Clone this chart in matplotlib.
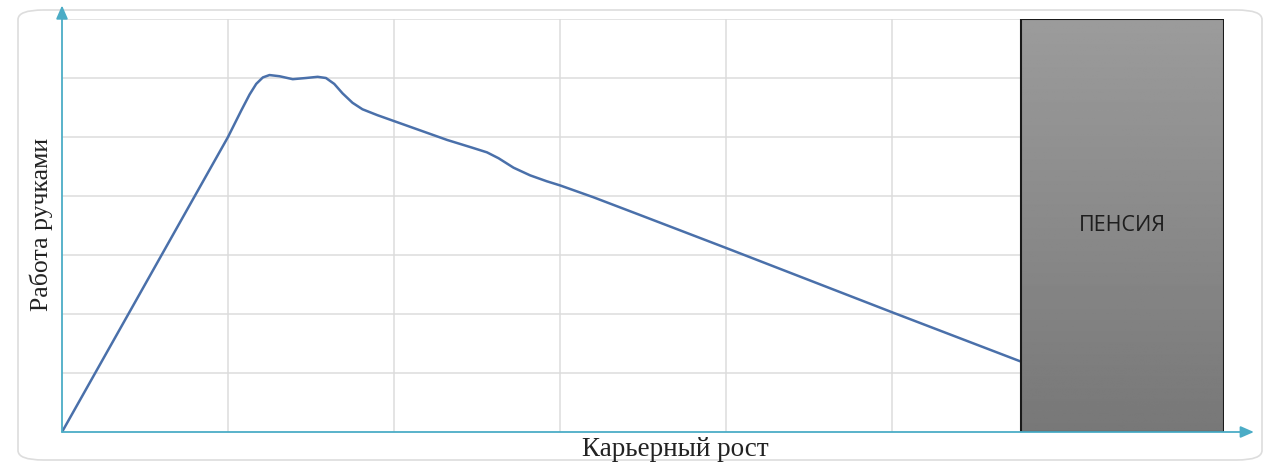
import matplotlib.pyplot as plt
import numpy as np
from matplotlib.patches import Rectangle, FancyBboxPatch

# values (x: career, y: hands-on work)
career_x = [0.0, 1.0, 1.08, 1.13, 1.17, 1.21, 1.25, 1.31, 1.39, 1.47, 1.54, 1.59,
            1.64, 1.69, 1.75, 1.81, 1.90, 2.02, 2.32, 2.47, 2.56, 2.63, 2.72,
            2.82, 2.92, 3.0, 3.20, 3.48, 4.0, 5.0, 5.78]
hands_y = [0.0, 5.0, 5.45, 5.72, 5.9, 6.01, 6.05, 6.03, 5.98, 6.0, 6.02, 6.0,
           5.9, 5.74, 5.58, 5.47, 5.37, 5.25, 4.95, 4.82, 4.74, 4.64, 4.48,
           4.35, 4.25, 4.18, 3.98, 3.68, 3.12, 2.03, 1.19]
retire_start = 5.78
retire_end = 7.0
retire_label = "ПЕНСИЯ"
xlabel = "Карьерный рост"
ylabel = "Работа ручками"

axis_color = "#4bacc6"
line_color = "#4a70aa"

fig = plt.figure(figsize=(12.66, 4.76), dpi=100)

# rounded outer frame, kept behind the axes
frame = FancyBboxPatch((18 / 1266, 16 / 476), 1244 / 1266, 450 / 476,
                       boxstyle="round,pad=0,rounding_size=0.02",
                       transform=fig.transFigure, fc="white", ec="#dddddd", lw=1.2,
                       zorder=-10)
fig.patches.append(frame)

ax = fig.add_axes([62 / 1266, 44 / 476, 1162 / 1266, 413 / 476])
ax.set_zorder(5)
ax.set_xlim(0, 7)
ax.set_ylim(0, 7)
ax.patch.set_alpha(0)

ax.set_xticks(np.arange(1, 7))
ax.set_yticks(np.arange(1, 8))
ax.grid(True, color="#dcdcdc", lw=1.1)
ax.tick_params(length=0, labelbottom=False, labelleft=False)
for s in ax.spines.values():
    s.set_visible(False)

ax.plot(career_x, hands_y, color=line_color, lw=1.8, zorder=3,
        solid_capstyle="round", solid_joinstyle="round")

# retirement block with vertical gradient
grad = np.linspace(0.61, 0.47, 256).reshape(-1, 1)
ax.imshow(grad, cmap="gray", vmin=0, vmax=1, aspect="auto",
          extent=[retire_start, retire_end, 0, 7], origin="upper", zorder=4)
ax.add_patch(Rectangle((retire_start, 0), retire_end - retire_start, 7,
                       fill=False, ec="#1a1a1a", lw=1.5, zorder=5))
ax.text((retire_start + retire_end) / 2, 3.5, retire_label, ha="center", va="center",
        fontsize=15.5, family="Open Sans", color="#1e1e1e", zorder=6)

# axes with arrows
ax.annotate("", xy=(7.18, 0), xytext=(0, 0),
            arrowprops=dict(arrowstyle="-|>,head_length=0.8,head_width=0.35",
                            color=axis_color, lw=1.3, shrinkA=0, shrinkB=0),
            annotation_clip=False, zorder=6)
ax.annotate("", xy=(0, 7.23), xytext=(0, 0),
            arrowprops=dict(arrowstyle="-|>,head_length=0.8,head_width=0.35",
                            color=axis_color, lw=1.3, shrinkA=0, shrinkB=0),
            annotation_clip=False, zorder=6)

fig.text(675 / 1266, 1 - 450 / 476, xlabel, ha="center", va="center",
         fontsize=19.5, family="Liberation Serif", color="#222222")
fig.text(41 / 1266, 1 - 224 / 476, ylabel, ha="center", va="center", rotation=90,
         fontsize=18.5, family="Liberation Serif", color="#222222")

fig.savefig("out.png", dpi=100)
